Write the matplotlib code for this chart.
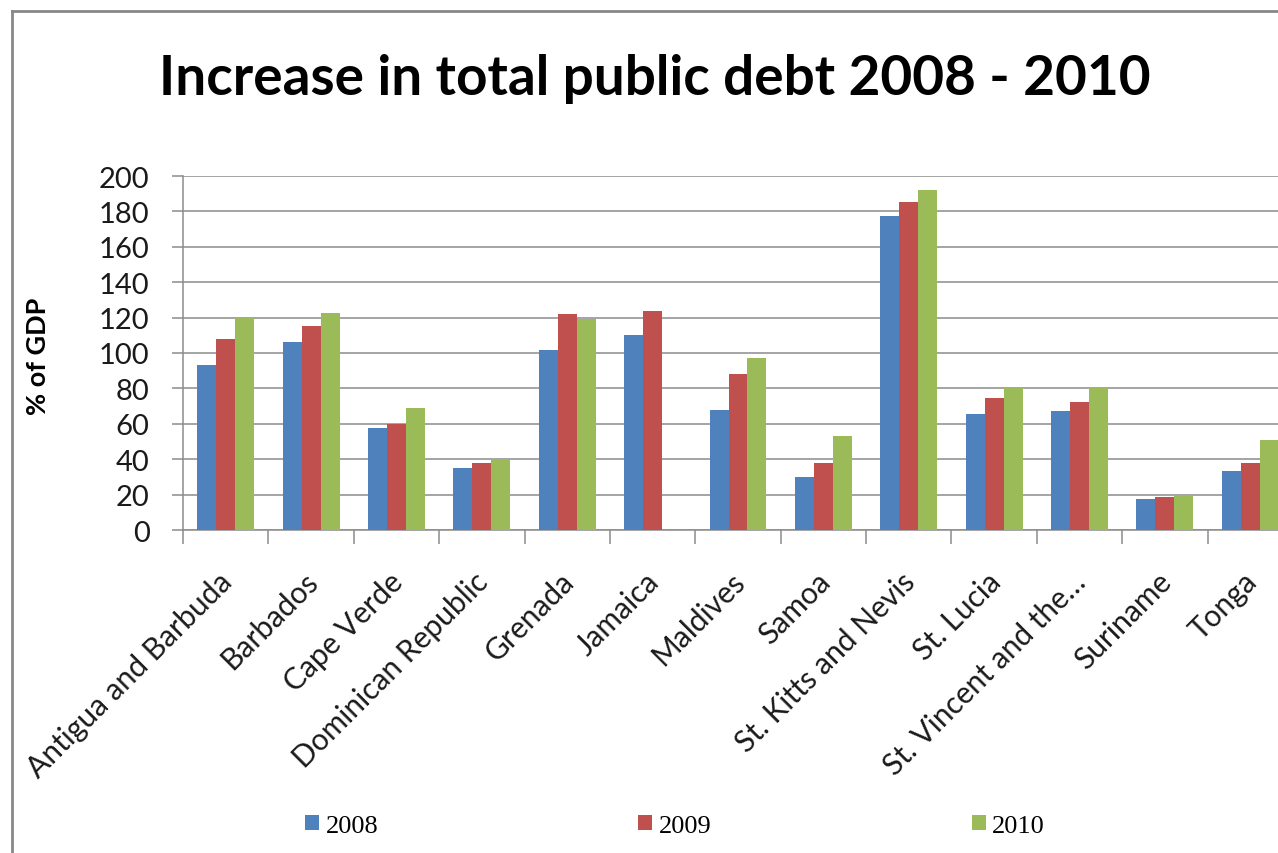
import numpy as np
import matplotlib.pyplot as plt
import matplotlib.transforms as mtransforms
from matplotlib.lines import Line2D
from matplotlib.patches import Patch
from matplotlib.ticker import FixedLocator

countries = [
    "Antigua and Barbuda",
    "Barbados",
    "Cape Verde",
    "Dominican Republic",
    "Grenada",
    "Jamaica",
    "Maldives",
    "Samoa",
    "St. Kitts and Nevis",
    "St. Lucia",
    "St. Vincent and the…",
    "Suriname",
    "Tonga",
]
debt_2008 = [93, 106, 57.5, 35, 101.5, 110, 68, 30, 177.5, 65.5, 67.5, 17.5, 33.5]
debt_2009 = [108, 115, 60, 38, 122, 123.5, 88, 38, 185.5, 74.5, 72.5, 18.5, 38]
debt_2010 = [120, 122.5, 69, 40, 119, np.nan, 97, 53, 192, 80, 80, 20, 51]
years = ["2008", "2009", "2010"]
colors = ["#4F81BD", "#C0504D", "#9BBB59"]

W, H = 1278, 854
fig = plt.figure(figsize=(W / 100, H / 100), dpi=100)

# plot area runs past the right edge of the figure
ax = fig.add_axes([183 / W, (H - 531) / H, 1110 / W, 354 / H])

x = np.arange(len(countries))
bw = 0.222
for i, (vals, col) in enumerate(zip([debt_2008, debt_2009, debt_2010], colors)):
    ax.bar(x + (i - 1) * bw, vals, width=bw, color=col, edgecolor="none", zorder=3)

ax.set_xlim(-0.5, len(countries) - 0.5)
ax.set_ylim(0, 200)
ax.set_yticks(range(0, 201, 20))
ax.yaxis.grid(True, color="#8c8c8c", linewidth=1.1, zorder=0)

for s in ["top", "right"]:
    ax.spines[s].set_visible(False)
for s in ["left", "bottom"]:
    ax.spines[s].set_color("#8c8c8c")
    ax.spines[s].set_linewidth(1.1)

ax.tick_params(axis="y", direction="out", length=8, width=1.1, color="#8c8c8c",
               pad=16, labelsize=21, labelcolor="#1a1a1a")
for lab in ax.get_yticklabels():
    lab.set_fontfamily("Lato")

# category labels at centres, tick marks at boundaries
ax.set_xticks(x)
ax.set_xticklabels(countries, rotation=45, ha="right", rotation_mode="anchor",
                   fontsize=21.5, fontfamily="Lato", color="#1a1a1a")
ax.tick_params(axis="x", which="major", length=0, pad=20)
ax.xaxis.set_minor_locator(FixedLocator(np.arange(-0.5, len(countries), 1.0)))
ax.tick_params(axis="x", which="minor", direction="out", length=10, width=1.1,
               color="#8c8c8c")

# nudge the slanted labels a little down and left
shift = mtransforms.ScaledTranslation(-8 / 100, -9 / 100, fig.dpi_scale_trans)
for lab in ax.get_xticklabels():
    lab.set_transform(lab.get_transform() + shift)

fig.text(38 / W, 1 - 356 / H, "% of GDP", rotation=90, ha="center", va="center",
         fontsize=19.5, fontweight="bold", fontfamily="Lato")

fig.text(655 / W, 1 - 95 / H, "Increase in total public debt 2008 - 2010",
         ha="center", va="baseline", fontsize=39.5, fontweight="bold",
         fontfamily="Lato")

handles = [Patch(facecolor=c, edgecolor="none") for c in colors]
fig.legend(handles, years, loc="center", bbox_to_anchor=(675 / W, 1 - 827 / H),
           ncol=3, frameon=False, prop={"family": "Liberation Serif", "size": 19},
           handlelength=0.53, handleheight=0.5, handletextpad=0.25,
           columnspacing=9.85)

# chart border
fig.add_artist(Line2D([12 / W, 12 / W], [0, 1 - 12 / H], transform=fig.transFigure,
                      color="#888888", linewidth=2))
fig.add_artist(Line2D([12 / W, 1], [1 - 12 / H, 1 - 12 / H], transform=fig.transFigure,
                      color="#888888", linewidth=2))

fig.savefig("out.png", dpi=100, facecolor="white")
